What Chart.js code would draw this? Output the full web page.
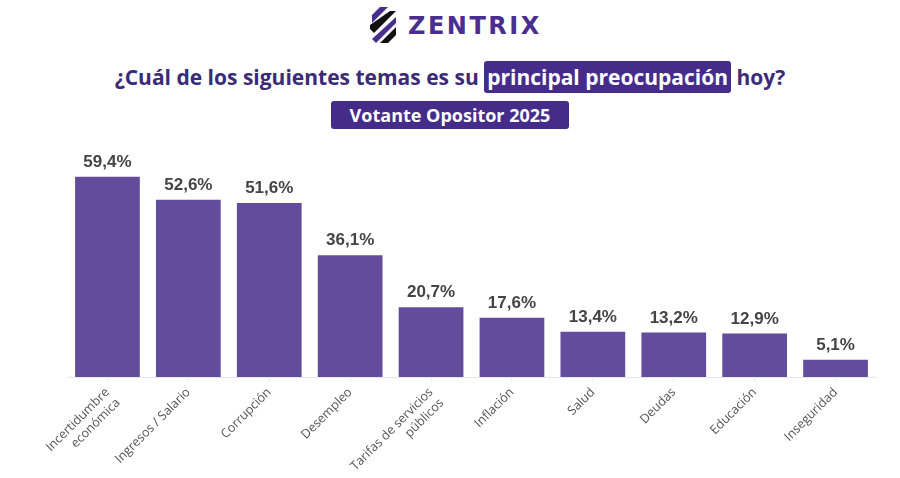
<!DOCTYPE html>
<html lang="es">
<head>
  <meta charset="UTF-8">
  <title>Principal preocupación - Votante Opositor 2025</title>
  <script src="https://cdn.jsdelivr.net/npm/chart.js"></script>
  <style>
    html, body { margin: 0; padding: 0; background: #fff; }
    #wrap { position: relative; width: 900px; height: 478px; overflow: hidden; }
    #chart { position: absolute; left: 0; top: 0; }
    .logo { position: absolute; left: 366px; top: 4px; height: 44px; display: flex; align-items: center; }
    .logo span { font-family: "DejaVu Sans", sans-serif; font-weight: bold; font-size: 24px; color: #4a2e8f; letter-spacing: 2.5px; margin-left: 8px; }
    .titulo { position: absolute; left: 0; width: 900px; top: 62px; text-align: center;
      font-family: "Open Sans", sans-serif; font-weight: bold; font-size: 21px; color: #3b2a78; line-height: 31px; }
    .marca { background: #452c8a; color: #fff; border-radius: 3px; padding: 2px 3px; }
    .sub { position: absolute; left: 331px; width: 238px; top: 101px; height: 28px; line-height: 28px;
      background: #452c8a; color: #fff; border-radius: 3px; text-align: center;
      font-family: "Open Sans", sans-serif; font-weight: bold; font-size: 18px; }
  </style>
</head>
<body>
<div id="wrap">
  <div class="logo">
    <svg width="34" height="42" viewBox="0 0 34 42">
      <polygon points="14,2 22,2 6,18 6,10" fill="#4a2e8f"/>
      <polygon points="24,6 30,6 8,28 4,24 4,20" fill="#111"/>
      <polygon points="30,12 30,18 10,38 6,34" fill="#4a2e8f"/>
      <polygon points="30,22 30,30 22,38 14,38" fill="#111"/>
    </svg>
    <span>ZENTRIX</span>
  </div>
  <div class="titulo">¿Cuál de los siguientes temas es su <span class="marca">principal preocupación</span> hoy?</div>
  <div class="sub">Votante Opositor 2025</div>
  <canvas id="chart" width="900" height="478"></canvas>
</div>
<script>
  // Datos
  const categorias = [
    ['Incertidumbre', 'económica'],
    'Ingresos / Salario',
    'Corrupción',
    'Desempleo',
    ['Tarifas de servicios', 'públicos'],
    'Inflación',
    'Salud',
    'Deudas',
    'Educación',
    'Inseguridad'
  ];
  const valores = [59.4, 52.6, 51.6, 36.1, 20.7, 17.6, 13.4, 13.2, 12.9, 5.1];
  const etiquetas = valores.map(v => v.toFixed(1).replace('.', ',') + '%');

  // Etiquetas de valor encima de cada barra
  const valorPlugin = {
    id: 'valores',
    afterDatasetsDraw(chart) {
      const ctx = chart.ctx;
      const meta = chart.getDatasetMeta(0);
      ctx.save();
      ctx.font = 'bold 17px "Liberation Sans", Arial, sans-serif';
      ctx.fillStyle = '#444';
      ctx.textAlign = 'center';
      ctx.textBaseline = 'bottom';
      meta.data.forEach((bar, i) => {
        ctx.fillText(etiquetas[i], bar.x, bar.y - 6);
      });
      ctx.restore();
    }
  };

  const ctx = document.getElementById('chart').getContext('2d');
  new Chart(ctx, {
    type: 'bar',
    data: {
      labels: categorias,
      datasets: [{
        data: valores,
        backgroundColor: '#634c9b',
        borderWidth: 0,
        barPercentage: 0.8,
        categoryPercentage: 1
      }]
    },
    options: {
      responsive: false,
      animation: false,
      layout: { padding: { left: 67, right: 24, top: 141, bottom: 0 } },
      plugins: { legend: { display: false }, tooltip: { enabled: false } },
      scales: {
        y: { display: false, min: 0, max: 70 },
        x: {
          afterFit(scale) { scale.height = 101; },
          border: { color: '#e6e6ee' },
          grid: { drawOnChartArea: false, offset: false, color: '#ececf2', tickLength: 5 },
          ticks: {
            color: '#555',
            font: { family: '"Open Sans", sans-serif', size: 12.5 },
            maxRotation: 45,
            minRotation: 45,
            autoSkip: false
          }
        }
      }
    },
    plugins: [valorPlugin]
  });
</script>
</body>
</html>
